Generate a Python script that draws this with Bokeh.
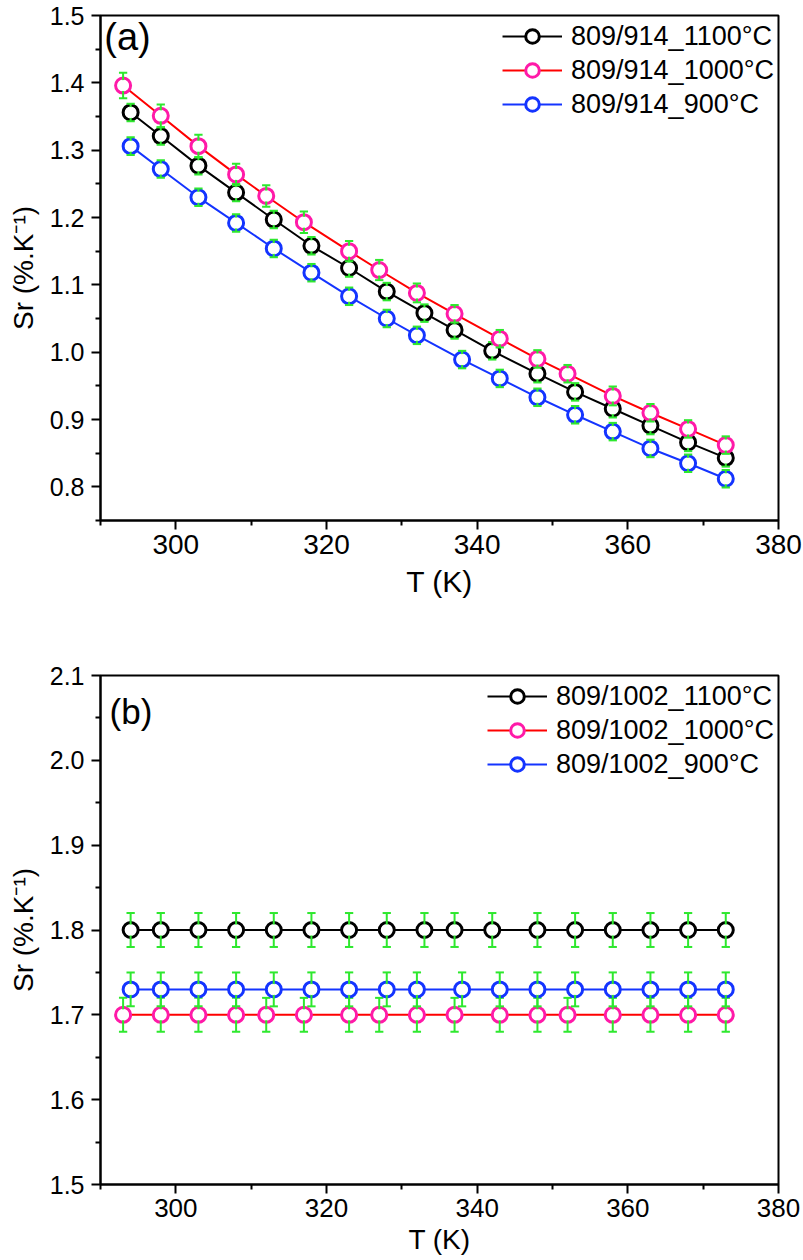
from bokeh.plotting import figure
from bokeh.models import (Range1d, FixedTicker, PrintfTickFormatter, Label,
                          Legend, LegendItem, ColumnDataSource)
from bokeh.layouts import column
from bokeh.embed import file_html
from bokeh.resources import INLINE

# ---------------- data ----------------
T_1100 = [294, 298, 303, 308, 313, 318, 323, 328, 333, 337, 342, 348, 353, 358, 363, 368, 373]
T_1000 = [293, 298, 303, 308, 312, 317, 323, 327, 332, 337, 343, 348, 352, 358, 363, 368, 373]
T_900 = [294, 298, 303, 308, 313, 318, 323, 328, 332, 338, 343, 348, 353, 358, 363, 368, 373]

# panel (a): 809/914
a_sr_1100 = [1.356, 1.321, 1.277, 1.237, 1.197, 1.158, 1.125, 1.090, 1.058, 1.033,
             1.002, 0.968, 0.941, 0.916, 0.891, 0.866, 0.843]
a_err_1100 = [0.013, 0.013, 0.013, 0.013, 0.013, 0.013, 0.013, 0.013, 0.013, 0.013,
              0.013, 0.013, 0.013, 0.013, 0.013, 0.013, 0.013]
a_sr_1000 = [1.396, 1.351, 1.306, 1.264, 1.232, 1.193, 1.150, 1.122, 1.088, 1.057,
             1.020, 0.990, 0.968, 0.935, 0.910, 0.886, 0.862]
a_err_1000 = [0.019, 0.017, 0.017, 0.016, 0.016, 0.016, 0.015, 0.015, 0.014, 0.013,
              0.013, 0.013, 0.013, 0.014, 0.013, 0.013, 0.013]
a_sr_900 = [1.306, 1.272, 1.230, 1.192, 1.154, 1.118, 1.083, 1.050, 1.025, 0.989,
            0.961, 0.933, 0.907, 0.882, 0.857, 0.835, 0.812]
a_err_900 = [0.013, 0.013, 0.013, 0.013, 0.013, 0.013, 0.013, 0.013, 0.013, 0.013,
             0.013, 0.013, 0.013, 0.013, 0.013, 0.013, 0.013]

# panel (b): 809/1002
b_sr_1100 = [1.80, 1.80, 1.80, 1.80, 1.80, 1.80, 1.80, 1.80, 1.80, 1.80,
             1.80, 1.80, 1.80, 1.80, 1.80, 1.80, 1.80]
b_err_1100 = [0.02, 0.02, 0.02, 0.02, 0.02, 0.02, 0.02, 0.02, 0.02, 0.02,
              0.02, 0.02, 0.02, 0.02, 0.02, 0.02, 0.02]
b_sr_1000 = [1.70, 1.70, 1.70, 1.70, 1.70, 1.70, 1.70, 1.70, 1.70, 1.70,
             1.70, 1.70, 1.70, 1.70, 1.70, 1.70, 1.70]
b_err_1000 = [0.02, 0.02, 0.02, 0.02, 0.02, 0.02, 0.02, 0.02, 0.02, 0.02,
              0.02, 0.02, 0.02, 0.02, 0.02, 0.02, 0.02]
b_sr_900 = [1.73, 1.73, 1.73, 1.73, 1.73, 1.73, 1.73, 1.73, 1.73, 1.73,
            1.73, 1.73, 1.73, 1.73, 1.73, 1.73, 1.73]
b_err_900 = [0.02, 0.02, 0.02, 0.02, 0.02, 0.02, 0.02, 0.02, 0.02, 0.02,
             0.02, 0.02, 0.02, 0.02, 0.02, 0.02, 0.02]

x_ticks = [300, 320, 340, 360, 380]
x_minor = [290, 310, 330, 350, 370]
a_yticks = [0.8, 0.9, 1.0, 1.1, 1.2, 1.3, 1.4, 1.5]
a_yminor = [0.75, 0.85, 0.95, 1.05, 1.15, 1.25, 1.35, 1.45]
b_yticks = [1.5, 1.6, 1.7, 1.8, 1.9, 2.0, 2.1]
b_yminor = [1.55, 1.65, 1.75, 1.85, 1.95, 2.05]

a_labels = ["809/914_1100°C", "809/914_1000°C", "809/914_900°C"]
b_labels = ["809/1002_1100°C", "809/1002_1000°C", "809/1002_900°C"]

FONT = "Liberation Sans"
GREEN = "#2EE82E"
LINE_COLORS = ["#000000", "#FF0000", "#1434FF"]
RING_COLORS = ["#000000", "#FF1AA8", "#1434FF"]


def make_panel(height, ylo, yhi, yticks, yminor, series, labels, tag, tag_xy,
               borders, tag_size, xtick_size, ytick_size, xlabel_size,
               xlabel_standoff, legend_margin):
    bt, bb, bl, br = borders
    p = figure(width=803, height=height, x_range=Range1d(290, 380),
               y_range=Range1d(ylo, yhi), output_backend="svg",
               toolbar_location=None, title=None,
               min_border_left=bl, min_border_right=br,
               min_border_top=bt, min_border_bottom=bb)
    p.background_fill_color = "white"
    p.border_fill_color = "white"
    p.xgrid.visible = False
    p.ygrid.visible = False
    p.outline_line_color = "black"
    p.outline_line_width = 2
    p.outline_line_alpha = 1

    p.xaxis.ticker = FixedTicker(ticks=x_ticks, minor_ticks=x_minor)
    p.yaxis.ticker = FixedTicker(ticks=yticks, minor_ticks=yminor)
    p.yaxis.formatter = PrintfTickFormatter(format="%.1f")
    p.xaxis.axis_label = "T (K)"
    p.yaxis.axis_label = "Sr (%.K⁻¹)"
    for ax in (p.xaxis[0], p.yaxis[0]):
        ax.axis_line_width = 2
        ax.major_tick_line_width = 2
        ax.minor_tick_line_width = 2
        ax.major_tick_in = 0
        ax.major_tick_out = 9
        ax.minor_tick_in = 0
        ax.minor_tick_out = 5
        ax.major_label_text_font = FONT
        ax.major_label_text_color = "black"
        ax.axis_label_text_font = FONT
        ax.axis_label_text_font_style = "normal"
        ax.axis_label_text_color = "black"
    p.xaxis.major_label_text_font_size = xtick_size
    p.yaxis.major_label_text_font_size = ytick_size
    p.xaxis.axis_label_text_font_size = xlabel_size
    p.yaxis.axis_label_text_font_size = "28px"
    p.xaxis.major_label_standoff = 5
    p.xaxis.axis_label_standoff = xlabel_standoff
    p.yaxis.major_label_standoff = 7
    p.yaxis.axis_label_standoff = 8

    items = []
    cap = 0.55
    for i, (xs, ys, es) in enumerate(series):
        up = [y + e for y, e in zip(ys, es)]
        lo = [y - e for y, e in zip(ys, es)]
        src = ColumnDataSource(dict(x=xs, y=ys, up=up, lo=lo,
                                    xl=[x - cap for x in xs], xr=[x + cap for x in xs]))
        lr = p.line("x", "y", source=src, line_color=LINE_COLORS[i], line_width=2)
        rr = p.scatter("x", "y", source=src, marker="circle", size=15,
                       fill_color="white", line_color=RING_COLORS[i], line_width=3)
        p.segment(x0="x", y0="lo", x1="x", y1="up", source=src,
                  line_color=GREEN, line_width=2)
        p.segment(x0="xl", y0="up", x1="xr", y1="up", source=src,
                  line_color=GREEN, line_width=2)
        p.segment(x0="xl", y0="lo", x1="xr", y1="lo", source=src,
                  line_color=GREEN, line_width=2)
        p.scatter("x", "y", source=src, marker="circle", size=11,
                  fill_color="white", line_color=None)
        items.append(LegendItem(label=labels[i], renderers=[lr, rr]))

    leg = Legend(items=items, location="top_right")
    leg.label_text_font = FONT
    leg.label_text_font_size = "27px"
    leg.label_text_color = "black"
    leg.glyph_width = 60
    leg.glyph_height = 34
    leg.label_height = 34
    leg.spacing = 0
    leg.label_standoff = 9
    leg.padding = 0
    leg.margin = legend_margin
    leg.border_line_color = None
    leg.background_fill_alpha = 0
    p.add_layout(leg)

    p.add_layout(Label(x=tag_xy[0], y=tag_xy[1], text=tag, text_font=FONT,
                       text_font_size=tag_size, text_baseline="top",
                       text_align="left", text_color="black"))
    return p


p1 = make_panel(600, 0.75, 1.5, a_yticks, a_yminor,
                [(T_1100, a_sr_1100, a_err_1100),
                 (T_1000, a_sr_1000, a_err_1000),
                 (T_900, a_sr_900, a_err_900)],
                a_labels, "(a)", (290.5, 1.499), (15, 78, 100, 24), "38px",
                "28px", "25px", "30px", 8, 4)

p2 = make_panel(660, 1.5, 2.1, b_yticks, b_yminor,
                [(T_1100, b_sr_1100, b_err_1100),
                 (T_1000, b_sr_1000, b_err_1000),
                 (T_900, b_sr_900, b_err_900)],
                b_labels, "(b)", (291.2, 2.081), (75, 76, 98, 25), "35px",
                "26px", "25px", "28px", 4, 4)

layout = column(p1, p2, spacing=0)
open("out.html", "w").write(file_html(layout, INLINE))
